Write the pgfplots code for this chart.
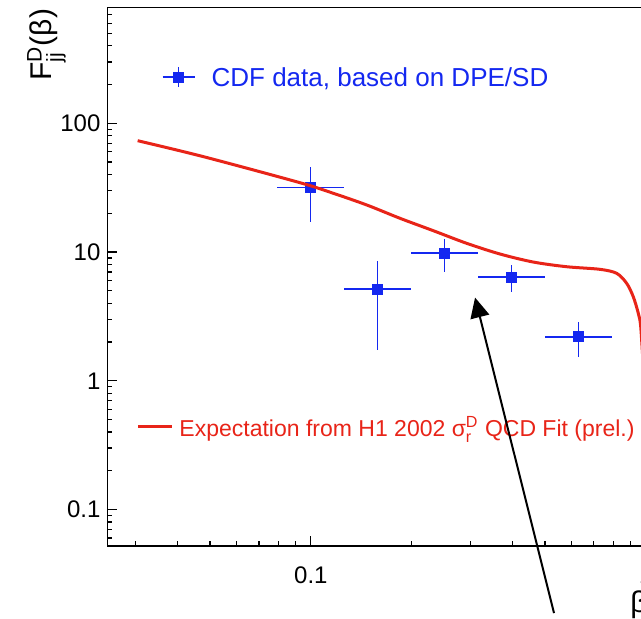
\documentclass[border=0pt]{standalone}
\usepackage{fontspec}
\setmainfont{Liberation Sans}
\usepackage{amsmath}
\usepackage{pgfplots}
\usepackage{pgfplotstable}
\pgfplotsset{compat=1.18}
\usetikzlibrary{arrows.meta}

\definecolor{cdfblue}{RGB}{20,40,240}
\definecolor{fitred}{RGB}{232,36,24}

% CDF points: beta, F, x errors (bin edges), y error
\pgfplotstableread{
x      y     exm    exp    ey
0.1000 31.6  0.0206 0.0259 14.4
0.1585 5.16  0.0326 0.0410 3.43
0.2512 9.82  0.0517 0.0650 2.76
0.3981 6.39  0.0819 0.1031 1.50
0.6310 2.19  0.1298 0.1633 0.65
}\cdfdata

% H1 2002 fit curve
\pgfplotstableread{
x      y
0.0304 73.3
0.0479 55.0
0.0929 34.55
0.1168 28.59
0.1470 23.19
0.1848 18.27
0.2323 14.64
0.2922 11.68
0.3674 9.65
0.4618 8.36
0.5809 7.69
0.7306 7.34
0.8194 6.83
0.8776 5.71
0.9183 4.49
0.9504 3.34
0.9663 2.63
0.985  1.2
}\fitcurve

\begin{document}
\begin{tikzpicture}
\begin{axis}[name=main,
  scale only axis, width=269.1pt, height=269.3pt,
  xmode=log, ymode=log,
  xmin=0.0247, xmax=1, ymin=0.052, ymax=796,
  axis line style={line width=0.8pt},
  tick style={line width=0.6pt, black},
  major tick length=5pt, minor tick length=2.5pt,
  tick pos=left, tick align=inside,
  xtick={0.1,1}, xticklabels={0.1,1},
  ytick={0.1,1,10,100}, yticklabels={0.1,1,10,100},
  minor xtick={0.03,0.04,0.05,0.06,0.07,0.08,0.09,0.2,0.3,0.4,0.5,0.6,0.7,0.8,0.9},
  minor ytick={0.06,0.07,0.08,0.09,0.2,0.3,0.4,0.5,0.6,0.7,0.8,0.9,2,3,4,5,6,7,8,9,20,30,40,50,60,70,80,90,200,300,400,500,600,700},
  ticklabel style={font=\fontsize{12}{14}\selectfont},
  xticklabel style={yshift=-7pt},
  legend style={draw=none, fill=none, inner sep=0pt, outer sep=0pt,
    column sep=8.2pt, at={(axis description cs:0.1013,0.8708)}, anchor=west,
    cells={anchor=west},
    nodes={inner sep=0pt, text depth=0pt, font=\fontsize{13}{15}\selectfont, text=cdfblue}},
]
\addplot[only marks, mark=square*, mark size=2.5pt, color=cdfblue,
  mark options={fill=cdfblue, draw=cdfblue, line width=0pt},
  legend image code/.code={
    \draw[cdfblue, line width=0.6pt] (0pt,0pt) -- (16pt,0pt);
    \draw[cdfblue, line width=0.6pt] (8pt,-5pt) -- (8pt,5pt);
    \fill[cdfblue] (5.5pt,-2.5pt) rectangle (10.5pt,2.5pt);
  },
  error bars/.cd, x dir=both, x explicit, y dir=both, y explicit,
  error mark=none, error bar style={line width=0.6pt, draw=cdfblue, solid},
] table[x=x, y=y, x error minus=exm, x error plus=exp, y error=ey]{\cdfdata};
\addlegendentry{CDF data, based on DPE/SD}
\end{axis}

\begin{axis}[
  scale only axis, width=269.1pt, height=269.3pt,
  xmode=log, ymode=log,
  xmin=0.0247, xmax=1, ymin=0.052, ymax=796,
  hide axis, clip=false,
  legend style={draw=none, fill=none, inner sep=0pt, outer sep=0pt,
    column sep=2.75pt, at={(axis description cs:0.0548,0.2215)}, anchor=west,
    cells={anchor=west},
    nodes={inner sep=0pt, text depth=0pt, font=\fontsize{11.5}{14}\selectfont, text=fitred}},
]
\addplot[fitred, line width=1.5pt, smooth,
  legend image code/.code={\draw[fitred, line width=1.5pt] (0pt,0pt) -- (17pt,0pt);},
] table[x=x, y=y]{\fitcurve};
\addlegendentry{Expectation from H1 2002 σ$^{\text{D}}_{\text{r}}$ QCD Fit (prel.)}
\coordinate (arrowtail) at (axis cs:0.5324,0.01567);
\coordinate (arrowtip) at (axis cs:0.3093,4.43);
\end{axis}

\draw[line width=1pt, -{Triangle[length=10pt, width=9.5pt]}] (arrowtail) -- (arrowtip);

\node[rotate=90, anchor=base east, inner sep=0pt, font=\fontsize{15}{18}\selectfont]
  at ([xshift=-27.75pt, yshift=-0.5pt]main.north west) {F$^{\text{D}}_{\text{jj}}$(β)};
\node[anchor=north east, inner sep=0pt, font=\fontsize{15}{18}\selectfont]
  at ([xshift=1.2pt, yshift=-22pt]main.south east) {β};

\pgfresetboundingbox
\path[use as bounding box] (-53.75pt,-36pt) rectangle (266.75pt,273pt);
\end{tikzpicture}
\end{document}
